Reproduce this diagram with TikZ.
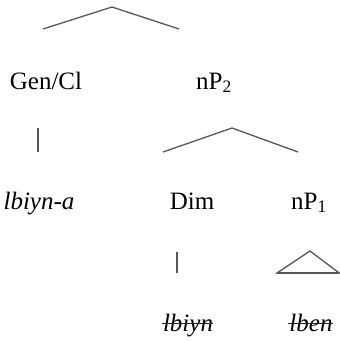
\documentclass[tikz,border=0pt]{standalone}
\usepackage{fontspec}
\setmainfont{Liberation Serif}
\usepackage{tikz}
\usetikzlibrary{calc}

\tikzset{
  branch/.style={draw=black!66,line width=1.3pt},
  strike/.style={draw=black!85,line width=1pt},
  lab/.style={anchor=base,inner sep=0pt,font=\fontsize{25}{30}\selectfont},
}

\begin{document}
\begin{tikzpicture}[x=1pt,y=-1pt]
\useasboundingbox (0,0) rectangle (340,341);
% labels, row by row
\node[lab] (gencl) at (46,89) {Gen/Cl};
\node[lab] (np2) at (214,89) {nP\textsubscript{2}};
\node[lab] (lbiyna) at (39,209) {\textit{lbiyn-a}};
\node[lab] (dim) at (192,209) {Dim};
\node[lab] (np1) at (309,209) {nP\textsubscript{1}};
\node[lab] (lbiyn) at (188,331) {\textit{lbiyn}};
\node[lab] (lben) at (311,331) {\textit{lben}};
% crossed-out copies
\draw[strike] ($(lbiyn.base west)+(-1,-8)$) -- ($(lbiyn.base east)+(0,-8)$);
\draw[strike] ($(lben.base west)+(-1,-8)$) -- ($(lben.base east)+(0,-8)$);
% branch points
\coordinate (root) at (112,7);
\coordinate (rootL) at (43,29);
\coordinate (rootR) at (179,29);
\coordinate (genTop) at (38,128);
\coordinate (genBot) at (38,152);
\coordinate (np2top) at (232,128);
\coordinate (np2L) at (163,152);
\coordinate (np2R) at (298,152);
\coordinate (dimTop) at (177,252);
\coordinate (dimBot) at (177,273);
\coordinate (np1top) at (310,251);
\coordinate (np1L) at (277,273);
\coordinate (np1R) at (339.2,273);
% tree lines
\draw[branch] (rootL) -- (root) -- (rootR);
\draw[branch] (genTop) -- (genBot);
\draw[branch] (np2L) -- (np2top) -- (np2R);
\draw[branch] (dimTop) -- (dimBot);
\draw[branch,line join=miter] (np1L) -- (np1top) -- (np1R) -- cycle;
\draw[branch,line width=1.8pt] (np1L) -- (np1R);
\end{tikzpicture}
\end{document}
